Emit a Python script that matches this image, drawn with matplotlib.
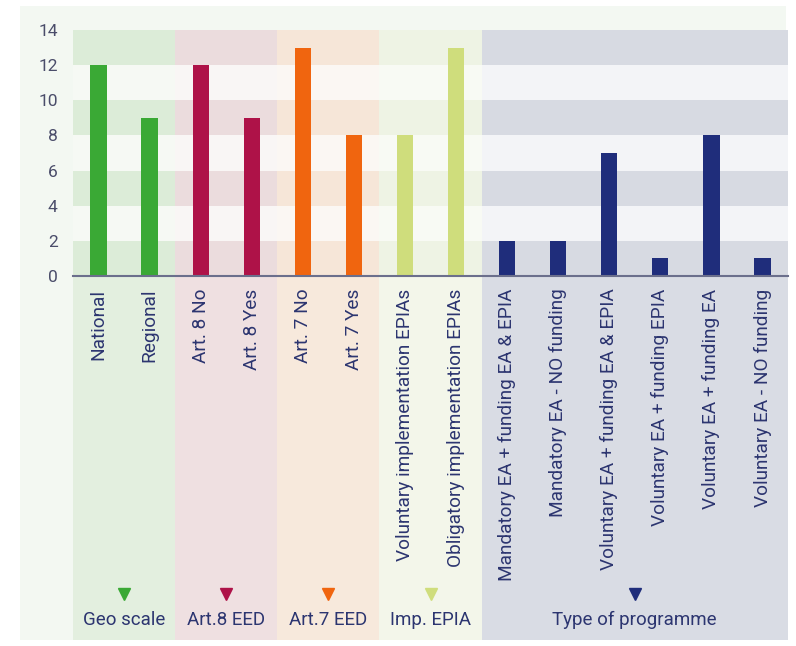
import matplotlib
matplotlib.use("Agg")
import matplotlib.pyplot as plt
from matplotlib.patches import Rectangle
import numpy as np

categories = ["National", "Regional", "Art. 8 No", "Art. 8 Yes", "Art. 7 No", "Art. 7 Yes",
              "Voluntary implementation EPIAs", "Obligatory implementation EPIAs",
              "Mandatory EA + funding EA & EPIA", "Mandatory EA - NO funding",
              "Voluntary EA + funding EA & EPIA", "Voluntary EA + funding EPIA",
              "Voluntary EA + funding EA", "Voluntary EA - NO funding"]
values = [12, 9, 12, 9, 13, 8, 8, 13, 2, 2, 7, 1, 8, 1]

group_names = ["Geo scale", "Art.8 EED", "Art.7 EED", "Imp. EPIA", "Type of programme"]
group_sizes = [2, 2, 2, 2, 6]
group_colors = ["#3aa935", "#ae1248", "#f0650f", "#cfdd7c", "#1f2d7b"]
band_dark = ["#dcecd8", "#ebdcdd", "#f6e6d8", "#eef3e4", "#d7dae2"]
band_light = ["#f6f9f4", "#f9f6f5", "#fbf7f3", "#f8faf4", "#f3f4f7"]
below_bg = ["#e3efdf", "#efe0e1", "#f7e9dc", "#f3f6ea", "#d9dce4"]

W, H = 796, 646
fig = plt.figure(figsize=(W / 100, H / 100), dpi=100)
fig.patches.append(Rectangle((20 / W, 6 / H), 766 / W, 634 / H, transform=fig.transFigure,
                             facecolor="#f3f8f2", edgecolor="none", zorder=-10))

left, right, top, axis_y, bottom = 73, 788, 30, 276, 640
bg = fig.add_axes([left / W, 1 - bottom / H, (right - left) / W, (bottom - top) / H])
ax = fig.add_axes([left / W, 1 - axis_y / H, (right - left) / W, (axis_y - top) / H])
for a in (bg, ax):
    a.set_xlim(-0.5, len(categories) - 0.5)
    a.patch.set_alpha(0)
bg.set_ylim(0, 1)
bg.axis("off")

x = np.arange(len(categories))
colors = []
start = 0
for gi, n in enumerate(group_sizes):
    x0, x1 = start - 0.5, start + n - 0.5
    bg.axvspan(x0, x1, color=below_bg[gi], lw=0, zorder=0)
    for k in range(7):
        c = band_dark[gi] if k % 2 == 0 else band_light[gi]
        ax.add_patch(Rectangle((x0, 2 * k), n, 2, facecolor=c, edgecolor="none", zorder=0))
    cx = (x0 + x1) / 2
    bg.plot(cx, 0.075, marker="v", color=group_colors[gi], markersize=9, zorder=3)
    bg.text(cx, 0.033, group_names[gi], ha="center", va="center", fontsize=13.5,
            color="#2c3570", family=["Liberation Sans Narrow", "Roboto", "DejaVu Sans"])
    colors += [group_colors[gi]] * n
    start += n

ax.bar(x, values, width=0.32, color=colors, zorder=3)
ax.set_ylim(0, 14)
ax.set_yticks(range(0, 15, 2))
ax.set_xticks(x)
ax.set_xticklabels(categories, rotation=90, fontsize=13.7, color="#2c3570",
                   family="Roboto", va="top")
ax.tick_params(length=0)
ax.tick_params(axis="y", pad=11, labelsize=12.5, labelcolor="#4a4d6a")
ax.tick_params(axis="x", pad=9)
for lab in ax.get_yticklabels():
    lab.set_family("Roboto")
for s in ["top", "right", "left"]:
    ax.spines[s].set_visible(False)
ax.spines["bottom"].set_color("#6b6f8c")
ax.spines["bottom"].set_linewidth(1.5)
ax.spines["bottom"].set_zorder(4)

fig.savefig("out.png", dpi=100)
